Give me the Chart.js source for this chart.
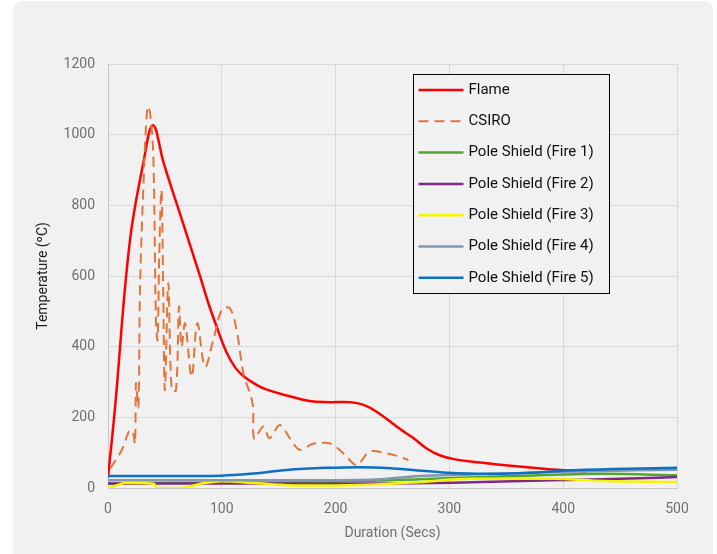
<!DOCTYPE html>
<html>
<head>
<meta charset="utf-8">
<script src="https://cdn.jsdelivr.net/npm/chart.js@4.4.1/dist/chart.umd.min.js"></script>
<style>
  html, body { margin: 0; padding: 0; background: #ffffff; }
  #wrap { position: relative; width: 717px; height: 554px; }
</style>
</head>
<body>
<div id="wrap"><canvas id="chart" width="717" height="554"></canvas></div>
<script>
// 系列名
const seriesNames = [
  "Flame",
  "CSIRO",
  "Pole Shield (Fire 1)",
  "Pole Shield (Fire 2)",
  "Pole Shield (Fire 3)",
  "Pole Shield (Fire 4)",
  "Pole Shield (Fire 5)",
];

// 軸の目盛
const xTicks = [0, 100, 200, 300, 400, 500];
const yTicks = [0, 200, 400, 600, 800, 1000, 1200];

// Flame
const flameTime = [0, 6, 19, 31, 39.5, 49, 66, 81, 88, 96, 104, 112, 120, 130, 139, 157, 177, 195, 213, 224, 236, 257, 268, 280, 292, 305, 327, 356, 385, 420];
const flameTemp = [30, 221, 693, 919, 1027, 919, 749, 598, 525, 452, 385, 340, 314, 293, 279, 262, 246, 243, 243, 236, 216, 166, 142, 112, 92, 81, 72, 62, 54, 47];

// CSIRO
const csiroTime = [2, 6, 10, 13.5, 17, 19.3, 22, 23.7, 24.3, 24.6, 26.7, 28.1, 31, 34.6, 37, 39.8, 42.2, 43.6, 45, 47, 48.5, 50, 53, 56, 59.8, 62.4, 64.7, 67.7, 73.5, 78.5, 85.2, 92.5, 100, 107, 113, 119, 127, 128.5, 136.5, 142, 151, 160, 168.7, 180, 192, 198, 208, 218.5, 230, 245, 255, 264];
const csiroTemp = [55, 75, 95, 117, 150, 164, 155, 126, 249, 297, 230, 560, 843, 1079, 1061, 938, 467, 419, 655, 843, 560, 277, 580, 277, 277, 513, 400, 466, 315, 466, 343, 419, 504, 509, 447, 325, 240, 140, 174, 141, 178, 140, 108, 125, 128, 122, 95, 65, 103, 98, 90, 79];

// Pole Shield
const fire1Time = [0, 40, 100, 186, 274, 350, 435, 500];
const fire1Temp = [12, 14, 15, 17, 25, 33, 40, 36];

const fire2Time = [0, 100, 186, 250, 303, 391, 450, 500];
const fire2Temp = [13, 13, 12, 13, 15, 22, 26, 31];

const fire3Time = [0, 8, 15, 28, 40, 44, 55, 65, 85, 100, 129, 158, 190, 230, 274, 318, 391, 435, 500];
const fire3Temp = [0, 8, 14, 14, 12, 0, 0, 1, 14, 19, 14, 8, 7, 9, 17, 26, 26, 20, 17];

const fire4Time = [0, 100, 190, 240, 274, 318, 360, 400, 500];
const fire4Temp = [22, 22, 22, 25, 34, 38, 42, 46, 52];

const fire5Time = [0, 50, 100, 125, 157, 192, 221, 248, 268, 298, 336, 371, 400, 444, 500];
const fire5Temp = [34, 34, 35, 40, 51, 57, 59, 56, 51, 43, 40, 43, 49, 54, 57];

// 色
const seriesColors = ["#ff0000", "#e2763a", "#4ea72e", "#7e2a84", "#f5f500", "#8497b0", "#0f6fc0"];

function toPoints(xs, ys) {
  return xs.map((x, i) => ({ x: x, y: ys[i] }));
}

const allTimes = [flameTime, csiroTime, fire1Time, fire2Time, fire3Time, fire4Time, fire5Time];
const allTemps = [flameTemp, csiroTemp, fire1Temp, fire2Temp, fire3Temp, fire4Temp, fire5Temp];

const datasets = seriesNames.map((name, i) => ({
  label: name,
  data: toPoints(allTimes[i], allTemps[i]),
  borderColor: seriesColors[i],
  backgroundColor: seriesColors[i],
  borderWidth: i === 1 ? 2 : 2.5,
  borderDash: i === 1 ? [10, 6] : [],
  pointRadius: 0,
  tension: i === 0 ? 0.4 : 0.35,
  cubicInterpolationMode: i <= 1 ? "default" : "monotone",
  order: seriesNames.length - i, // Excel風に後の系列を上に
}));

// 背景パネル
const panelPlugin = {
  id: "panel",
  beforeDraw(chart) {
    const ctx = chart.ctx;
    ctx.save();
    ctx.fillStyle = "#f1f1f1";
    ctx.beginPath();
    ctx.roundRect(13, 1, 700, 570, 9);
    ctx.fill();
    ctx.restore();
  },
};

// 枠付き凡例（プロット内）
const boxLegend = {
  id: "boxLegend",
  afterDatasetsDraw(chart) {
    const ctx = chart.ctx;
    const left = 413.5, top = 74.5, w = 196, h = 219;
    ctx.save();
    ctx.fillStyle = "#f1f1f1";
    ctx.fillRect(left, top, w, h);
    ctx.strokeStyle = "#000000";
    ctx.lineWidth = 1;
    ctx.strokeRect(left, top, w, h);
    ctx.font = "15px Roboto";
    ctx.textBaseline = "middle";
    chart.data.datasets.forEach((ds, i) => {
      const y = top + 15.5 + i * 31.3;
      ctx.strokeStyle = ds.borderColor;
      ctx.lineWidth = ds.borderWidth;
      ctx.setLineDash(ds.borderDash);
      ctx.beginPath();
      ctx.moveTo(left + 5, y);
      ctx.lineTo(left + 50, y);
      ctx.stroke();
      ctx.setLineDash([]);
      ctx.fillStyle = "#111111";
      ctx.fillText(ds.label, left + 55, y);
    });
    ctx.restore();
  },
};

new Chart(document.getElementById("chart"), {
  type: "line",
  data: { datasets: datasets },
  plugins: [panelPlugin, boxLegend],
  options: {
    responsive: false,
    animation: false,
    layout: { padding: { top: 64, right: 40, left: 0, bottom: 0 } },
    plugins: {
      legend: { display: false },
      tooltip: { enabled: false },
    },
    scales: {
      x: {
        type: "linear",
        min: xTicks[0],
        max: xTicks[xTicks.length - 1],
        afterBuildTicks: (scale) => { scale.ticks = xTicks.map((v) => ({ value: v })); },
        afterFit: (scale) => { scale.height = 66; },
        grid: { color: "#d9d9d9", drawTicks: false },
        border: { color: "#c8c8c8" },
        ticks: {
          padding: 13,
          color: "#707070",
          font: { family: "Roboto", size: 14 },
          callback: (value) => String(value),
        },
        title: {
          display: true,
          text: "Duration (Secs)",
          color: "#707070",
          font: { family: "Roboto", size: 14 },
          padding: { top: 0, bottom: 12 },
        },
      },
      y: {
        min: yTicks[0],
        max: yTicks[yTicks.length - 1],
        afterBuildTicks: (scale) => { scale.ticks = yTicks.map((v) => ({ value: v })); },
        afterFit: (scale) => { scale.width = 108; },
        grid: { color: "#d9d9d9", drawTicks: false },
        border: { color: "#c8c8c8" },
        ticks: {
          padding: 13,
          color: "#707070",
          font: { family: "Roboto", size: 14 },
          callback: (value) => String(value),
        },
        title: {
          display: true,
          text: "Temperature (ºC)",
          color: "#1e1e1e",
          font: { family: "Roboto", size: 14 },
          padding: { top: 35, bottom: 0 },
        },
      },
    },
  },
});
</script>
</body>
</html>
